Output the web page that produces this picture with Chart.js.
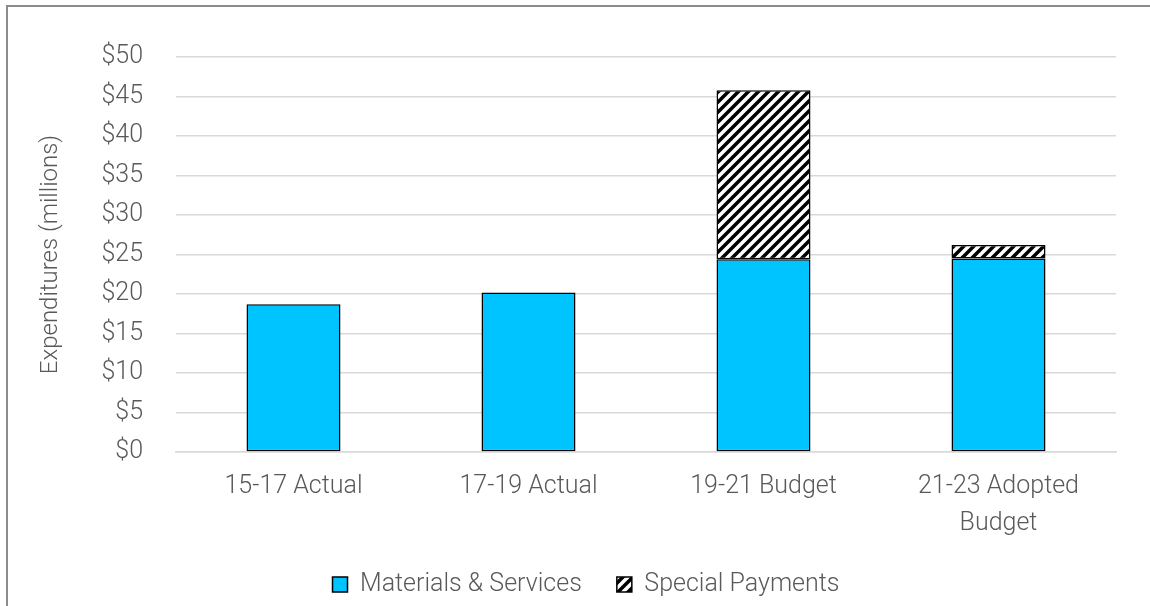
<!DOCTYPE html>
<html>
<head>
<meta charset="utf-8">
<script src="https://cdn.jsdelivr.net/npm/chart.js@4/dist/chart.umd.min.js"></script>
<style>
  html, body { margin: 0; padding: 0; background: #fff; }
  #wrap { position: relative; width: 1150px; height: 606px; overflow: hidden; }
  #frame { position: absolute; left: 6px; top: 5px; right: -10px; bottom: -10px;
           border-top: 2px solid #8c8c8c; border-left: 2px solid #8c8c8c; }
  canvas { position: absolute; left: 0; top: 0; }
</style>
</head>
<body>
<div id="wrap">
  <div id="frame"></div>
  <canvas id="expChart" width="1150" height="606"></canvas>
</div>
<script>
const categories = ['15-17 Actual', '17-19 Actual', '19-21 Budget', ['21-23 Adopted', 'Budget']];
const materialsServices = [18.7, 20.2, 24.4, 24.5];
const specialPayments = [null, null, 21.4, 1.7];
const yTicks = [0, 5, 10, 15, 20, 25, 30, 35, 40, 45, 50];

function hatch() {
    const c = document.createElement('canvas');
    c.width = 10; c.height = 10;
    const g = c.getContext('2d');
    g.fillStyle = '#fff';
    g.fillRect(0, 0, 10, 10);
    g.strokeStyle = '#000';
    g.lineWidth = 3.5;
    g.beginPath();
    g.moveTo(-2, 12); g.lineTo(12, -2);
    g.moveTo(-7, 7); g.lineTo(7, -7);
    g.moveTo(3, 17); g.lineTo(17, 3);
    g.stroke();
    return document.getElementById('expChart').getContext('2d').createPattern(c, 'repeat');
}

const textColor = '#595959';
const font = { family: 'Roboto', size: 25, weight: 300 };

new Chart(document.getElementById('expChart').getContext('2d'), {
    type: 'bar',
    data: {
        labels: categories,
        datasets: [{
            label: 'Materials & Services',
            data: materialsServices,
            backgroundColor: '#00c4ff',
            borderColor: '#000',
            borderWidth: 1.5,
            borderSkipped: false
        }, {
            label: 'Special Payments',
            data: specialPayments,
            backgroundColor: hatch(),
            borderColor: '#000',
            borderWidth: 1.5,
            borderSkipped: false
        }]
    },
    options: {
        responsive: false,
        animation: false,
        // left padding pushes the legend centre right; y axis and title are pulled back with afterFit / negative title padding
        layout: { padding: { top: 57, right: 34, left: 56, bottom: -1 } },
        datasets: { bar: { categoryPercentage: 1, barPercentage: 0.4 } },
        plugins: {
            tooltip: { enabled: false },
            legend: {
                position: 'bottom',
                labels: {
                    color: textColor,
                    font: font,
                    boxWidth: 15,
                    boxHeight: 15,
                    padding: 35,
                    useBorderRadius: false
                }
            }
        },
        scales: {
            x: {
                stacked: true,
                grid: { display: false },
                border: { display: true, color: '#d9d9d9', width: 1.5 },
                ticks: { color: textColor, font: { family: 'Roboto', size: 25, weight: 300, lineHeight: 1.45 }, padding: 9, maxRotation: 0, autoSkip: false },
                afterFit: s => { s.height = 85; }
            },
            y: {
                stacked: true,
                min: 0,
                max: 50,
                afterBuildTicks: s => { s.ticks = yTicks.map(v => ({ value: v })); },
                grid: { color: '#d9d9d9', lineWidth: 1.5, drawTicks: false },
                border: { display: false },
                ticks: { color: textColor, font: font, padding: 33, callback: v => '$' + v },
                title: { display: true, text: 'Expenditures (millions)', color: textColor, font: { family: 'Roboto', size: 24, weight: 300 }, padding: { top: -19, bottom: 0 } },
                afterFit: s => { s.width = 120; }
            }
        }
    }
});
</script>
</body>
</html>
